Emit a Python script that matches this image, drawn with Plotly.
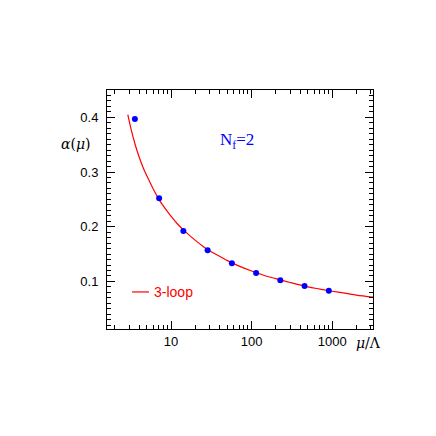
import plotly.graph_objects as go

# lattice data points
mu_pts = [3.55, 7.1, 14.2, 28.4, 56.8, 113.6, 227, 454, 909]
alpha_pts = [0.397, 0.252, 0.192, 0.157, 0.133, 0.1155, 0.102, 0.0915, 0.083]

# 3-loop running coupling
mu_curve = [2.9, 3.2, 3.6, 4, 4.5, 5, 6, 7, 8, 10, 12, 15, 20, 25, 30, 40, 50, 70,
            100, 150, 200, 300, 500, 700, 1000, 1500, 2000, 3300]
alpha_curve = [0.405, 0.377, 0.349, 0.328, 0.308, 0.293, 0.269, 0.251, 0.238, 0.219,
               0.205, 0.191, 0.175, 0.164, 0.156, 0.146, 0.138, 0.128, 0.119, 0.110,
               0.105, 0.098, 0.090, 0.086, 0.082, 0.078, 0.075, 0.071]

x_ticks = [10, 100, 1000]
x_minor = [m * 10 ** k for k in range(0, 4) for m in range(2, 10) if m * 10 ** k < 3300]
y_ticks = [0.1, 0.2, 0.3, 0.4]

fig = go.Figure()
fig.add_trace(go.Scatter(x=mu_curve, y=alpha_curve, mode='lines',
                         line=dict(color='red', width=1.2), line_shape='spline',
                         showlegend=False))
fig.add_trace(go.Scatter(x=mu_pts, y=alpha_pts, mode='markers',
                         marker=dict(color='blue', size=6), showlegend=False))

axis_common = dict(showgrid=False, zeroline=False, showline=True, linecolor='black',
                   linewidth=1, mirror='allticks', ticks='inside', ticklen=8,
                   tickcolor='black', tickfont=dict(family='Liberation Sans', size=13,
                                                    color='black'))
fig.update_xaxes(type='log', range=[0.204, 3.507], tickvals=x_ticks,
                 ticktext=['10', '100', '1000'],
                 minor=dict(tickvals=x_minor, ticks='inside', ticklen=4, tickcolor='black'),
                 **axis_common)
fig.update_yaxes(range=[0.013, 0.45], tickvals=y_ticks,
                 ticktext=['0.1', '0.2', '0.3', '0.4'], ticklabelstandoff=5,
                 minor=dict(dtick=0.01, ticks='inside', ticklen=4, tickcolor='black'),
                 **axis_common)

fig.add_annotation(x=-0.117, y=0.774, xref='paper', yref='paper', text='<i>α</i>(<i>μ</i>)',
                   showarrow=False, xanchor='center', yanchor='middle',
                   font=dict(family='DejaVu Serif', size=14, color='black'))
fig.add_annotation(x=0.93, y=-0.059, xref='paper', yref='paper', text='<i>μ</i>/Λ',
                   showarrow=False, xanchor='left', yanchor='middle',
                   font=dict(family='DejaVu Serif', size=14, color='black'))
fig.add_annotation(x=0.418, y=0.787, xref='paper', yref='paper', xanchor='left',
                   yanchor='middle', text='N<sub>f</sub>=2', showarrow=False,
                   font=dict(family='Liberation Serif', size=17, color='blue'))
fig.add_shape(type='line', xref='paper', yref='paper', x0=0.094, x1=0.158, y0=0.155,
              y1=0.155, line=dict(color='red', width=1.2))
fig.add_annotation(x=0.169, y=0.155, xref='paper', yref='paper', xanchor='left',
                   yanchor='middle', text='3-loop', showarrow=False,
                   font=dict(family='Liberation Sans', size=14, color='red'))

fig.update_layout(width=436, height=436, margin=dict(l=99, r=71, t=82, b=115),
                  plot_bgcolor='white', paper_bgcolor='white')
fig.write_html("out.html")
